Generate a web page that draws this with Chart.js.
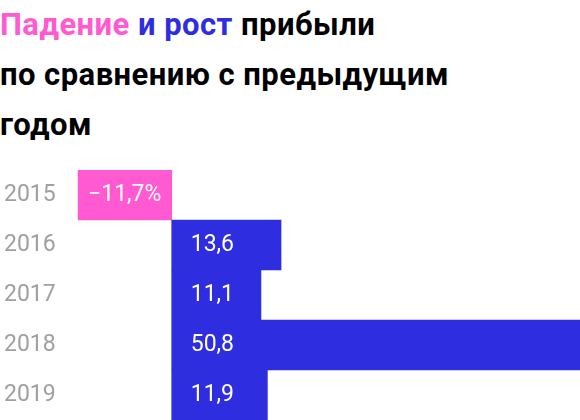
<!DOCTYPE html>
<html lang="ru">
<head>
    <meta charset="UTF-8">
    <title>Падение и рост прибыли</title>
    <script src="https://cdn.jsdelivr.net/npm/chart.js"></script>
    <style>
        body { margin: 0; width: 580px; height: 420px; background: #fff; position: relative; overflow: hidden; font-family: Roboto, sans-serif; }
        #title { position: absolute; left: 0; top: 0; margin: 0; font-size: 31px; font-weight: 700; line-height: 50px; letter-spacing: 0.45px; color: #000; }
        .pink { color: #ff5ad2; }
        .blue { color: #2e2ee0; }
        #chart-box { position: absolute; left: 0; top: 160px; width: 580px; height: 260px; }
    </style>
</head>
<body>
    <h1 id="title"><span class="pink">Падение</span> <span class="blue">и рост</span> прибыли<br>по сравнению с предыдущим<br>годом</h1>
    <div id="chart-box"><canvas id="profit-chart"></canvas></div>

    <script>
        // data
        const years = ['2015', '2016', '2017', '2018', '2019'];
        const growth = [-11.7, 13.6, 11.1, 50.8, 11.9];

        const PINK = '#ff5ad2';
        const BLUE = '#2e2ee0';

        function valueText(v, i) {
            let s = Math.abs(v).toFixed(1).replace('.', ',');
            if (v < 0) s = '\u2212' + s;
            if (i === 0) s += '%';
            return s;
        }

        // white value labels inside bars
        const barLabels = {
            id: 'barLabels',
            afterDatasetsDraw(chart) {
                const ctx = chart.ctx;
                const meta = chart.getDatasetMeta(0);
                const zero = chart.scales.x.getPixelForValue(0);
                ctx.save();
                ctx.fillStyle = '#fff';
                ctx.font = '23px Roboto';
                ctx.textBaseline = 'middle';
                meta.data.forEach((bar, i) => {
                    const v = growth[i];
                    if (v < 0) {
                        ctx.textAlign = 'center';
                        ctx.fillText(valueText(v, i), (bar.x + bar.base) / 2, bar.y);
                    } else {
                        ctx.textAlign = 'left';
                        ctx.fillText(valueText(v, i), zero + 19, bar.y);
                    }
                });
                ctx.restore();
            }
        };

        new Chart(document.getElementById('profit-chart'), {
            type: 'bar',
            data: {
                labels: years,
                datasets: [{
                    data: growth,
                    backgroundColor: growth.map(v => v < 0 ? PINK : BLUE),
                    borderWidth: 0,
                    barPercentage: 1,
                    categoryPercentage: 1
                }]
            },
            options: {
                indexAxis: 'y',
                responsive: true,
                maintainAspectRatio: false,
                animation: false,
                layout: { padding: { top: 10, left: 4, right: 0, bottom: 0 } },
                plugins: {
                    legend: { display: false },
                    tooltip: { enabled: false }
                },
                scales: {
                    x: {
                        display: false,
                        min: -11.7,
                        max: 50.8
                    },
                    y: {
                        grid: { display: false, drawTicks: false },
                        border: { display: false },
                        ticks: {
                            crossAlign: 'far',
                            color: '#a0a0a0',
                            font: { family: 'Roboto', size: 23 }
                        },
                        afterFit(scale) {
                            scale.width = 73.7;
                            scale.paddingTop = 0;
                            scale.paddingBottom = 0;
                        }
                    }
                }
            },
            plugins: [barLabels]
        });
    </script>
</body>
</html>
